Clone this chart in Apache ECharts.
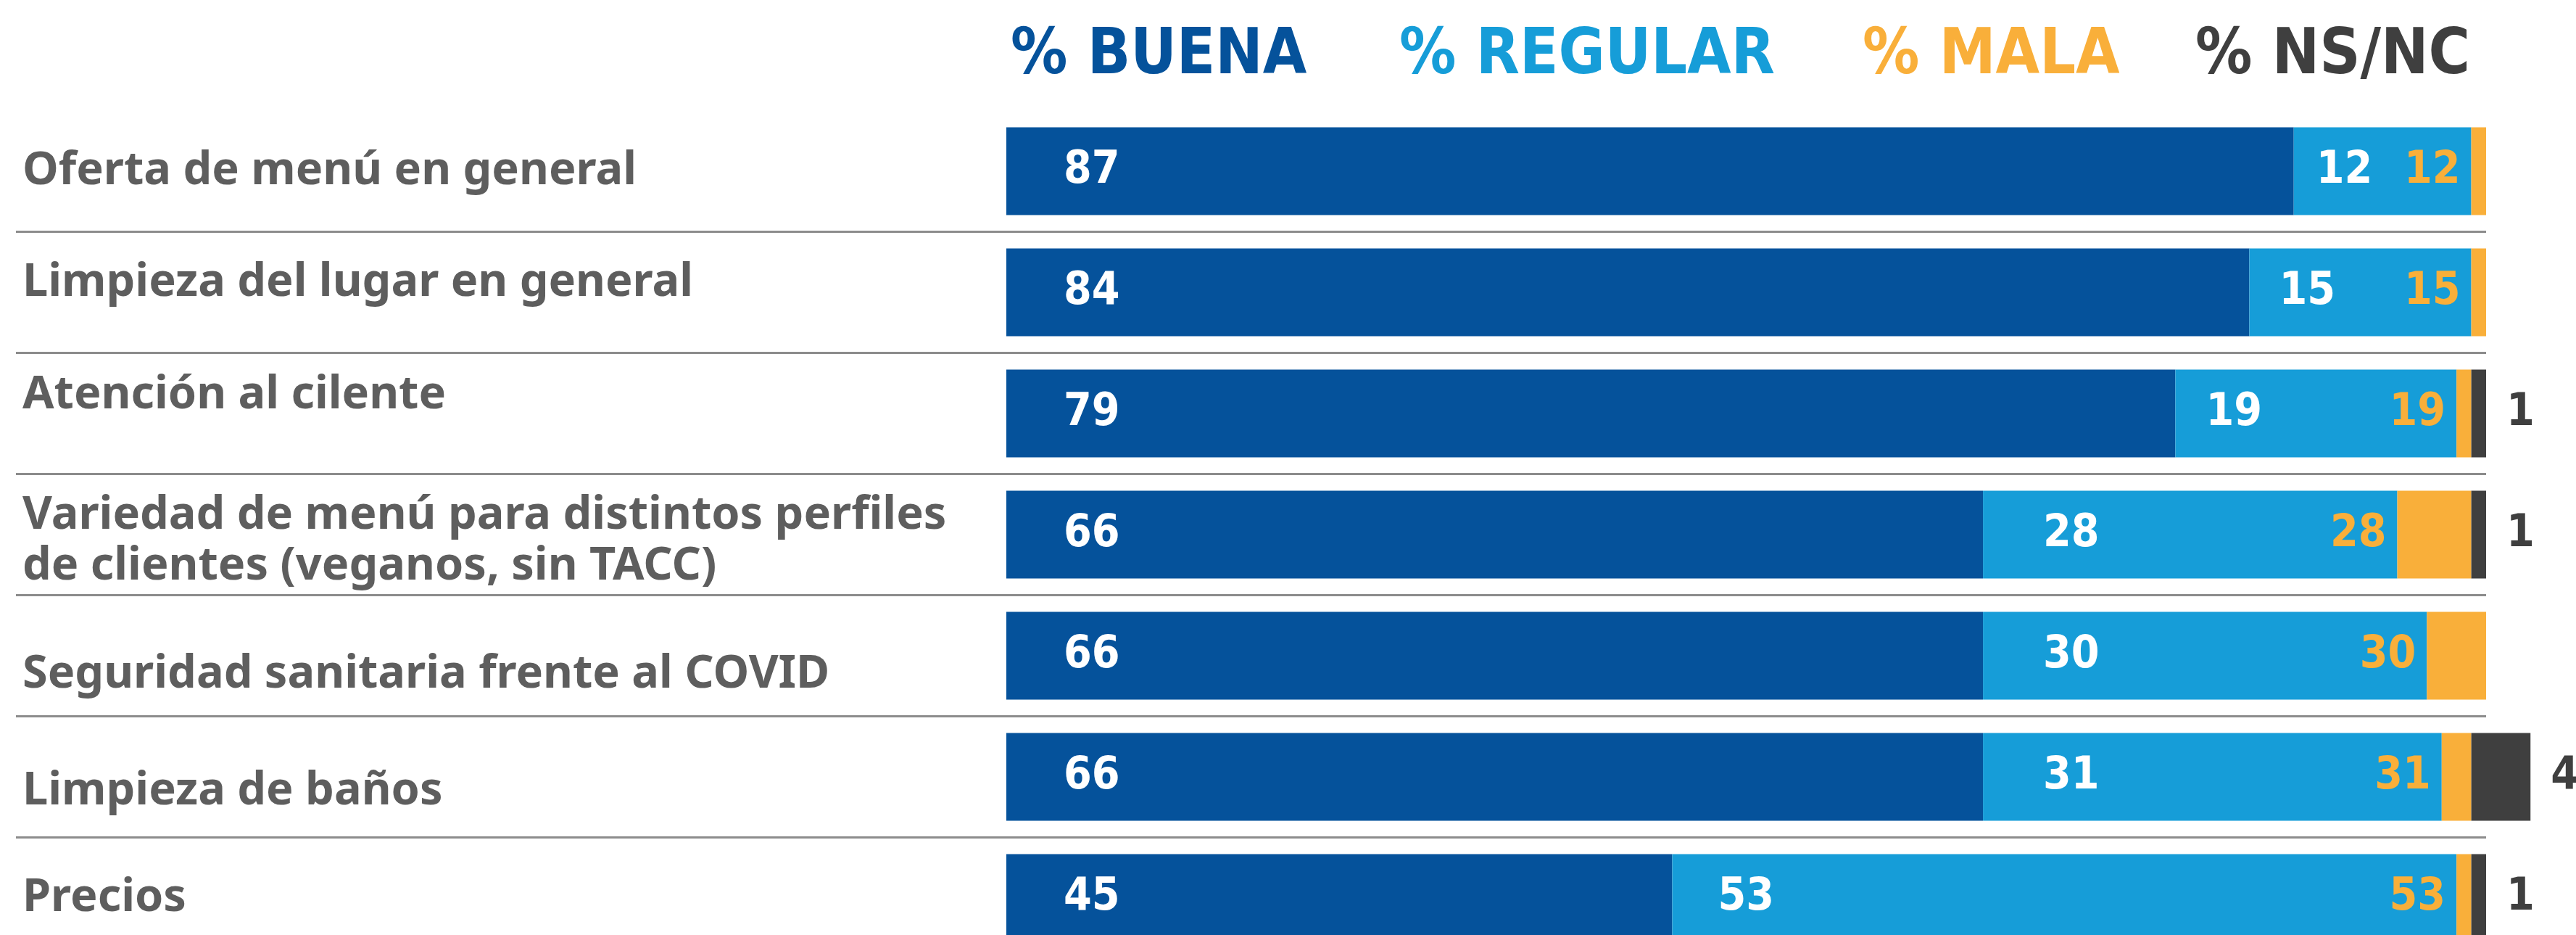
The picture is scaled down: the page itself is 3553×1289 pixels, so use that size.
<!DOCTYPE html>
<html lang="es">
<head>
<meta charset="utf-8">
<title>Evaluación del servicio</title>
<script src="https://cdn.jsdelivr.net/npm/echarts@6.0.0/dist/echarts.min.js"></script>
<style>
  html, body { margin: 0; padding: 0; background: #ffffff; }
  #chart { width: 3553px; height: 1289px; }
</style>
</head>
<body>
<div id="chart"></div>
<script>
const categorias = [
  "Oferta de menú en general",
  "Limpieza del lugar en general",
  "Atención al cilente",
  "Variedad de menú para distintos perfiles\nde clientes (veganos, sin TACC)",
  "Seguridad sanitaria frente al COVID",
  "Limpieza de baños",
  "Precios",
];
const buena = [87, 84, 79, 66, 66, 66, 45];
const regular = [12, 15, 19, 28, 30, 31, 53];
const mala = [1, 1, 1, 5, 4, 2, 1];
const nsnc = [0, 0, 1, 1, 0, 4, 1];
// las etiquetas naranjas, tal cual aparecen impresas
const etiquetasMala = [12, 15, 19, 28, 30, 31, 53];
const leyenda = ["% BUENA", "% REGULAR", "% MALA", "% NS/NC"];

// estilos / layout
const colores = ["#05529b", "#169dd8", "#f9af3a", "#3f3f3f"];
const leyendaX = [1394, 1930, 2569, 3028];
const despRegular = [31, 41, 42, 83, 83, 83, 63];
const despCategoria = [0, -13, -25, 9, 26, 20, 0];
const lineaIzq = 22;
const lineaDer = 3429;
const ceroX = 1388;
const xMin = -((ceroX - lineaIzq) / (lineaDer - ceroX)) * 100;

const fuenteNum = "'Liberation Sans Narrow', 'DejaVu Sans Condensed', Roboto, sans-serif";

// estilos rich para las etiquetas de categoría (t = texto, eN = espaciador)
const richCat = {
  t: {
    color: "#5e5e5e",
    fontSize: 63,
    fontWeight: "bold",
    fontFamily: "'Noto Sans', sans-serif",
    lineHeight: 70,
  },
};
despCategoria.forEach((s, i) => {
  richCat["e" + i] = { fontSize: 4, lineHeight: Math.max(2 * Math.abs(s), 1) };
});

const etiquetaCategoria = (valor, i) => {
  const texto = valor.split("\n").map((l) => "{t|" + l + "}").join("\n");
  const s = despCategoria[i];
  if (s > 0) return "{e" + i + "| }\n" + texto;
  if (s < 0) return texto + "\n{e" + i + "| }";
  return texto;
};

const chart = echarts.init(document.getElementById("chart"));

const serie = (nombre, datos, color, label) => ({
  name: nombre,
  type: "bar",
  stack: "total",
  data: datos,
  barWidth: 121,
  clip: false,
  itemStyle: { color: color },
  emphasis: { disabled: true },
  label: Object.assign(
    { show: true, fontFamily: fuenteNum, fontWeight: "bold", fontSize: 62 },
    label
  ),
});

const option = {
  backgroundColor: "#ffffff",
  animation: false,
  legend: leyenda.map((n, i) => ({
    data: [{ name: n }],
    left: leyendaX[i] - 5,
    top: 35,
    itemWidth: 0,
    itemHeight: 0,
    padding: 0,
    selectedMode: false,
    textStyle: {
      color: colores[i],
      fontSize: 87,
      fontWeight: "bold",
      fontFamily: fuenteNum,
    },
  })),
  grid: {
    left: lineaIzq,
    right: 3553 - lineaDer,
    top: 152.5,
    height: 1169,
    outerBoundsMode: "none",
  },
  xAxis: {
    type: "value",
    min: xMin,
    max: 100,
    show: false,
  },
  yAxis: {
    type: "category",
    inverse: true,
    data: categorias,
    axisLine: { show: false, onZero: false },
    axisTick: { show: false },
    axisLabel: {
      inside: true,
      margin: 9,
      align: "left",
      formatter: etiquetaCategoria,
      rich: richCat,
    },
    splitLine: {
      show: true,
      showMinLine: false,
      lineStyle: { color: "#8c8c8c", width: 3 },
    },
  },
  series: [
    serie(leyenda[0], buena, colores[0], {
      position: "insideLeft",
      distance: 79,
      color: "#ffffff",
    }),
    serie(
      leyenda[1],
      regular.map((v, i) => ({ value: v, label: { distance: despRegular[i] } })),
      colores[1],
      { position: "insideLeft", color: "#ffffff" }
    ),
    serie(leyenda[2], mala, colores[2], {
      position: "left",
      distance: 15,
      color: colores[2],
      formatter: (p) => etiquetasMala[p.dataIndex],
    }),
    serie(leyenda[3], nsnc, colores[3], {
      position: "right",
      distance: 28,
      color: colores[3],
      formatter: (p) => (p.value > 0 ? p.value : ""),
    }),
  ],
};

chart.setOption(option);
</script>
</body>
</html>
